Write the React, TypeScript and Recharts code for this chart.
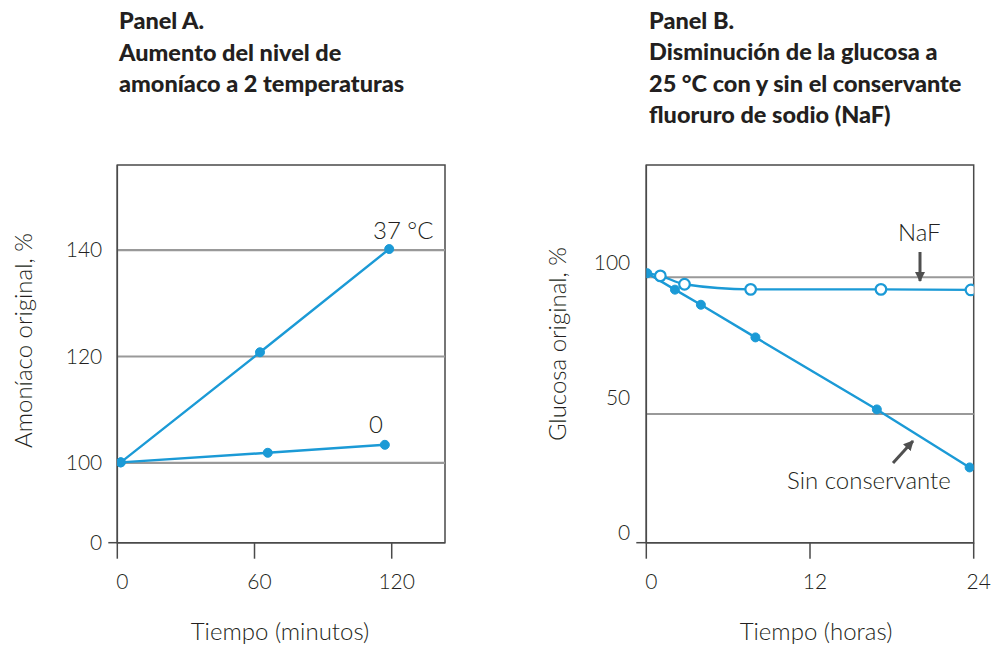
import React from "react";
import { LineChart, Line, XAxis, YAxis, ReferenceLine, ReferenceArea } from "recharts";

// ---------- Panel A data (minutes vs % of original ammonia) ----------
const A_T37_X = [1.5, 62.4, 118.9];
const A_T37_Y = [100.1, 120.8, 140.2];
const A_T0_X = [1.5, 65.8, 117.0];
const A_T0_Y = [100.1, 101.9, 103.4];
const A_X_TICKS = [0, 60, 120];
const A_Y_TICK_VALUES = [85, 100, 120, 140]; // broken axis: bottom tick stands for 0
const A_Y_TICK_LABELS = ["0", "100", "120", "140"];
const A_GRID = [100, 120, 140];

// ---------- Panel B data (hours vs % of original glucose) ----------
const B_NONE_X = [0.07, 2.1, 4.0, 8.0, 16.9, 23.7];
const B_NONE_Y = [99.9, 93.8, 88.2, 76.1, 49.4, 27.9];
const B_NAF_X = [0.07, 1.03, 2.8, 7.65, 17.2, 23.8];
const B_NAF_Y = [99.9, 98.9, 95.8, 93.9, 93.9, 93.7];
const B_X_TICKS = [0, 12, 24];
const B_Y_TICK_VALUES = [0, 50, 100];
const B_Y_TICK_LABELS = ["0", "50", "100"];
const B_GRID = [98.4, 47.7];

const toRows = (xs: number[], ys: number[]) => xs.map((x, i) => ({ x, y: ys[i] }));
const aT37 = toRows(A_T37_X, A_T37_Y);
const aT0 = toRows(A_T0_X, A_T0_Y);
const bNone = toRows(B_NONE_X, B_NONE_Y);
const bNaf = toRows(B_NAF_X, B_NAF_Y);

const BLUE = "#1b9ad6";
const AXIS = "#4a4a4a";
const GRID = "#999999";
const TEXT = "#231f20";
const FONT = "Lato, 'Open Sans', sans-serif";
const LIGHT = 300;

const makeYTick = (values: number[], labels: string[], dyShift: number) => (props: any) => {
  const { x, y, payload } = props;
  const idx = values.indexOf(payload.value);
  const isBottom = idx === 0;
  return (
    <g>
      {isBottom && <line x1={x + 6} x2={x + 16} y1={y} y2={y} stroke={AXIS} strokeWidth={1.5} />}
      <text x={x} y={y + dyShift} dy="0.35em" textAnchor="end" fontFamily={FONT} fontWeight={LIGHT} fontSize={21} fill={TEXT}>
        {idx >= 0 ? labels[idx] : payload.value}
      </text>
    </g>
  );
};

const XTick = (props: any) => {
  const { x, y, payload } = props;
  return (
    <text x={x + 5} y={y} dy="0.71em" textAnchor="middle" fontFamily={FONT} fontWeight={LIGHT} fontSize={21} fill={TEXT}>
      {payload.value}
    </text>
  );
};

const OpenDot = (props: any) => {
  const { cx, cy, index } = props;
  if (index === 0) return <g key={`o-${index}`} />;
  return <circle key={`o-${index}`} cx={cx} cy={cy} r={5.3} fill="#fff" stroke={BLUE} strokeWidth={2.2} />;
};

const filledDot = { r: 4.5, fill: BLUE, stroke: BLUE, strokeWidth: 1 };

const A_XMAX = 143.3;
const A_YMIN = 85;
const A_YMAX = 156;
const B_XMAX = 24;
const B_YMAX = 140;

export default function App() {
  return (
    <div style={{ position: "absolute", left: 0, top: 0, width: 996, height: 655, background: "#fff", overflow: "hidden" }}>
      <div style={{ position: "absolute", left: 0, top: 0 }}>
        <LineChart width={470} height={655} margin={{ top: 165, right: 25, bottom: 52.3, left: 57.3 }}>
          <XAxis
            type="number"
            dataKey="x"
            domain={[0, A_XMAX]}
            ticks={A_X_TICKS}
            allowDataOverflow
            height={60}
            tickSize={16}
            tickMargin={15}
            axisLine={{ stroke: AXIS, strokeWidth: 1.5 }}
            tickLine={{ stroke: AXIS, strokeWidth: 1.5 }}
            tick={<XTick />}
          />
          <YAxis
            type="number"
            domain={[A_YMIN, A_YMAX]}
            ticks={A_Y_TICK_VALUES}
            allowDataOverflow
            width={60}
            tickSize={9}
            tickMargin={6}
            axisLine={{ stroke: AXIS, strokeWidth: 1.5 }}
            tickLine={false}
            tick={makeYTick(A_Y_TICK_VALUES, A_Y_TICK_LABELS, 0)}
          />
          {A_GRID.map((g) => (
            <ReferenceLine key={g} y={g} stroke={GRID} strokeWidth={2.2} />
          ))}
          <ReferenceArea x1={0} x2={A_XMAX} y1={A_YMIN} y2={A_YMAX} fill="none" stroke={AXIS} strokeWidth={1.5} />
          <Line data={aT0} dataKey="y" type="linear" stroke={BLUE} strokeWidth={2.4} dot={filledDot} isAnimationActive={false} />
          <Line data={aT37} dataKey="y" type="linear" stroke={BLUE} strokeWidth={2.4} dot={filledDot} isAnimationActive={false} />
        </LineChart>
      </div>

      <div style={{ position: "absolute", left: 530, top: 0 }}>
        <LineChart width={466} height={655} margin={{ top: 165, right: 22.3, bottom: 52.3, left: 56.3 }}>
          <XAxis
            type="number"
            dataKey="x"
            domain={[0, B_XMAX]}
            ticks={B_X_TICKS}
            allowDataOverflow
            height={60}
            tickSize={16}
            tickMargin={15}
            axisLine={{ stroke: AXIS, strokeWidth: 1.5 }}
            tickLine={{ stroke: AXIS, strokeWidth: 1.5 }}
            tick={<XTick />}
          />
          <YAxis
            type="number"
            domain={[0, B_YMAX]}
            ticks={B_Y_TICK_VALUES}
            allowDataOverflow
            width={60}
            tickSize={9}
            tickMargin={7}
            axisLine={{ stroke: AXIS, strokeWidth: 1.5 }}
            tickLine={false}
            tick={makeYTick(B_Y_TICK_VALUES, B_Y_TICK_LABELS, -10)}
          />
          {B_GRID.map((g) => (
            <ReferenceLine key={g} y={g} stroke={GRID} strokeWidth={2.2} />
          ))}
          <ReferenceArea x1={0} x2={B_XMAX} y1={0} y2={B_YMAX} fill="none" stroke={AXIS} strokeWidth={1.5} />
          <Line data={bNaf} dataKey="y" type="monotone" stroke={BLUE} strokeWidth={2.4} dot={OpenDot} isAnimationActive={false} />
          <Line data={bNone} dataKey="y" type="linear" stroke={BLUE} strokeWidth={2.4} dot={filledDot} isAnimationActive={false} />
        </LineChart>
      </div>

      <svg width={996} height={655} style={{ position: "absolute", left: 0, top: 0, pointerEvents: "none" }}>
        <defs>
          <marker id="arrowHead" viewBox="0 0 10 10" refX="9" refY="5" markerWidth="3.4" markerHeight="3.4" orient="auto">
            <path d="M0,0 L10,5 L0,10 z" fill="#4f4f4f" />
          </marker>
        </defs>
        <g fontFamily={FONT} fontWeight={900} fontSize={23.5} fill={TEXT}>
          <text x={119} y={29}>Panel A.</text>
          <text x={119} y={61}>Aumento del nivel de</text>
          <text x={119} y={92}>amoníaco a 2 temperaturas</text>
          <text x={649} y={29}>Panel B.</text>
          <text x={649} y={60}>Disminución de la glucosa a</text>
          <text x={649} y={91.5}>25 °C con y sin el conservante</text>
          <text x={649} y={123}>fluoruro de sodio (NaF)</text>
        </g>
        <g fontFamily={FONT} fontWeight={LIGHT} fontSize={24} fill={TEXT}>
          <text x={280} y={640} textAnchor="middle">Tiempo (minutos)</text>
          <text x={816} y={640} textAnchor="middle">Tiempo (horas)</text>
          <text transform="translate(32,340.5) rotate(-90)" textAnchor="middle">Amoníaco original, %</text>
          <text transform="translate(566,344) rotate(-90)" textAnchor="middle">Glucosa original, %</text>
          <text x={373} y={239}>37 °C</text>
          <text x={376} y={433} textAnchor="middle">0</text>
          <text x={898} y={241}>NaF</text>
          <text x={787} y={489}>Sin conservante</text>
        </g>
        <line x1={920} y1={252} x2={920} y2={281} stroke="#4f4f4f" strokeWidth={3} markerEnd="url(#arrowHead)" />
        <line x1={893} y1={463} x2={913} y2={441} stroke="#4f4f4f" strokeWidth={3} markerEnd="url(#arrowHead)" />
      </svg>
    </div>
  );
}
